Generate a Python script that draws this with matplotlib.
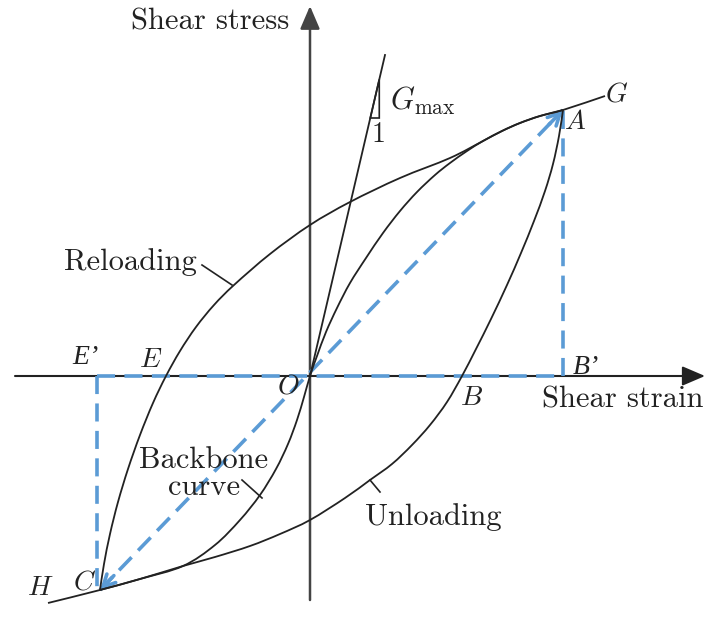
import matplotlib
matplotlib.use("Agg")
import matplotlib.pyplot as plt
from matplotlib.patches import Polygon, PathPatch
from matplotlib.path import Path

plt.rcParams["mathtext.fontset"] = "cm"

# =====================================
# Curve data (shear strain, shear stress), arbitrary units, O at (0, 0)
# =====================================

backbone_strain = [-262, -210, -170, -127, -95, -70, -50, -34, -22, -13, -6, 0,
                   7, 16, 27, 40, 56, 73, 90, 107, 125, 140, 157, 173, 192,
                   210, 230, 253, 295]
backbone_stress = [-227, -214, -203, -190, -169, -144, -119, -93, -68, -44, -21, 0,
                   20, 44, 68, 93, 118, 143, 165, 184, 201, 213, 225, 235, 245,
                   253, 260, 266, 280]

unloading_strain = [253, 249, 243, 235, 224, 211, 197, 181, 166, 152, 137, 120,
                    102, 82, 60, 35, 0, -30, -60, -95, -127, -170, -210]
unloading_stress = [266, 240, 212, 185, 155, 123, 91, 57, 27, 0, -26, -49,
                    -69, -88, -104, -122, -144, -158, -170, -181, -190, -203, -214]

reloading_strain = [-210, -206, -200, -192, -182, -170, -157, -144, -130, -114,
                    -96, -76, -40, 0, 40, 90, 140, 173, 192, 210, 230, 253]
reloading_stress = [-214, -188, -158, -126, -93, -59, -27, 0, 25, 49,
                    71, 91, 122, 151, 174, 198, 218, 235, 245, 253, 260, 266]

# initial stiffness line
gmax_strain = [0, 75]
gmax_stress = [0, 321]

# reversal points
point_a = (253, 266)
point_c = (-210, -214)
point_e_prime = (-213, 0)
point_b_prime = (253, 0)

blue = "#5b9bd5"
ink = "#222222"
cm_font = "cmr10"


def smooth_path(xs, ys):
    # Catmull-Rom through the points, written as cubic Bezier segments
    pts = list(zip(xs, ys))
    verts = [pts[0]]
    codes = [Path.MOVETO]
    for i in range(len(pts) - 1):
        p0 = pts[max(i - 1, 0)]
        p1 = pts[i]
        p2 = pts[i + 1]
        p3 = pts[min(i + 2, len(pts) - 1)]
        c1 = (p1[0] + (p2[0] - p0[0]) / 6, p1[1] + (p2[1] - p0[1]) / 6)
        c2 = (p2[0] - (p3[0] - p1[0]) / 6, p2[1] - (p3[1] - p1[1]) / 6)
        verts += [c1, c2, p2]
        codes += [Path.CURVE4] * 3
    return Path(verts, codes)


fig = plt.figure(figsize=(7.09, 6.30), dpi=100)
ax = fig.add_axes([0, 0, 1, 1])
ax.set_xlim(-310, 399)
ax.set_ylim(-254, 376)
ax.axis("off")

# =====================================
# Axes with arrows
# =====================================

ax.annotate("", xy=(395, 0), xytext=(-295, 0),
            arrowprops=dict(arrowstyle="-|>,head_width=0.3,head_length=0.7", lw=1.5,
                            color=ink, mutation_scale=20, shrinkA=0, shrinkB=0))
ax.annotate("", xy=(0, 370), xytext=(0, -224),
            arrowprops=dict(arrowstyle="-|>,head_width=0.3,head_length=0.7", lw=1.8,
                            color="#444444", mutation_scale=20, shrinkA=0, shrinkB=0))

# =====================================
# Blue dashed construction lines
# =====================================

dash = (5, 2.6)
ax.plot([point_e_prime[0], point_b_prime[0]], [0, 0], color=blue, lw=2.6,
        dashes=dash, zorder=3)
ax.plot([point_b_prime[0], point_a[0]], [0, point_a[1]], color=blue, lw=2.6,
        dashes=dash, zorder=3)
ax.plot([point_e_prime[0], point_e_prime[0]], [0, point_c[1]], color=blue, lw=2.6,
        dashes=dash, zorder=3)
ax.plot([point_c[0], point_a[0]], [point_c[1], point_a[1]], color=blue, lw=2.6,
        dashes=dash, zorder=3)

# arrow heads at both ends of the secant
for tip, tail in [(point_a, point_c), (point_c, point_a)]:
    start = (tip[0] + 0.03 * (tail[0] - tip[0]), tip[1] + 0.03 * (tail[1] - tip[1]))
    ax.annotate("", xy=tip, xytext=start,
                arrowprops=dict(arrowstyle="->", lw=2.6, color=blue,
                                mutation_scale=22, shrinkA=0, shrinkB=0),
                zorder=3)

# =====================================
# Stress-strain curves
# =====================================

for xs, ys in [(backbone_strain, backbone_stress),
               (unloading_strain, unloading_stress),
               (reloading_strain, reloading_stress)]:
    ax.add_patch(PathPatch(smooth_path(xs, ys), fill=False, edgecolor=ink,
                           lw=1.3, zorder=4))
ax.plot(gmax_strain, gmax_stress, color=ink, lw=1.3, zorder=4)

# slope triangle on the Gmax line
slope = gmax_stress[1] / gmax_strain[1]
tri_base = 258
tri_x0 = tri_base / slope
tri_x1 = tri_x0 + 9
ax.add_patch(Polygon([(tri_x0, tri_base), (tri_x1, tri_base), (tri_x1, slope * tri_x1)],
                     closed=True, fill=False, edgecolor=ink, lw=1.2, zorder=4))

# =====================================
# Labels
# =====================================

ax.text(-100, 354, "Shear stress", fontfamily=cm_font, fontsize=22,
        ha="center", va="center", color=ink)
ax.text(313, -24, "Shear strain", fontfamily=cm_font, fontsize=22,
        ha="center", va="center", color=ink)
ax.text(-180, 114, "Reloading", fontfamily=cm_font, fontsize=22,
        ha="center", va="center", color=ink)
ax.text(-106, -98, "Backbone\ncurve", fontfamily=cm_font, fontsize=22,
        ha="center", va="center", color=ink, linespacing=1.0)
ax.text(123, -141, "Unloading", fontfamily=cm_font, fontsize=22,
        ha="center", va="center", color=ink)
ax.text(69, 241, "1", fontfamily=cm_font, fontsize=20,
        ha="center", va="center", color=ink)
ax.text(80, 275, r"$G_{\mathrm{max}}$", fontsize=22, ha="left", va="center", color=ink)

# leader ticks
ax.plot([-108, -78], [111, 91], color=ink, lw=1.2)
ax.plot([-68, -48], [-104, -122], color=ink, lw=1.2)
ax.plot([60, 70], [-104, -116], color=ink, lw=1.2)

# point letters
letters = [("A", 265, 255), ("G", 307, 283), ("H", -270, -211), ("C", -225, -205),
           ("E", -159, 17), ("O", -22, -10), ("B", 161, -21)]
for name, gx, gy in letters:
    ax.text(gx, gy, "$" + name + "$", fontsize=20, ha="center", va="center",
            color=ink, zorder=5)

ax.text(-225, 19, "E\u2019", fontfamily="Liberation Serif", style="italic",
        fontsize=20, ha="center", va="center", color=ink)
ax.text(276, 8, "B\u2019", fontfamily="Liberation Serif", style="italic",
        fontsize=20, ha="center", va="center", color=ink)

fig.savefig("out.png", dpi=100)
